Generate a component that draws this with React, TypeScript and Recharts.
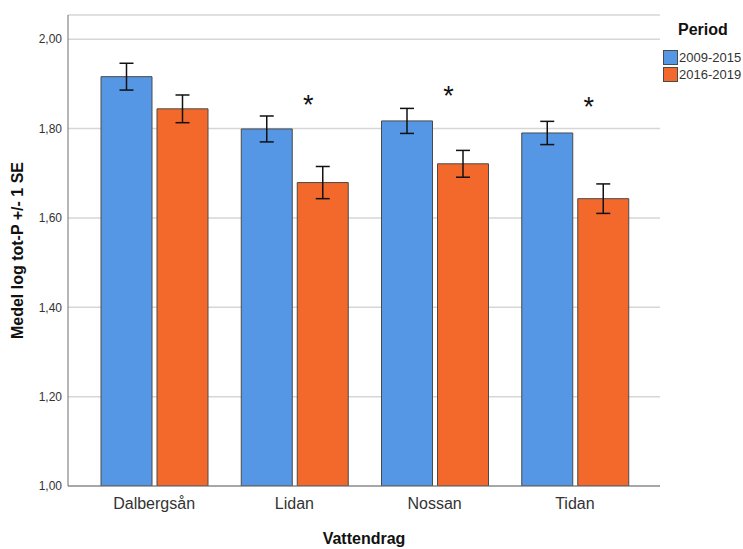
import { ComposedChart, Bar, ErrorBar, Scatter, XAxis, YAxis, CartesianGrid } from 'recharts';

// Vattendrag (categories)
const RIVERS = ['Dalbergsån', 'Lidan', 'Nossan', 'Tidan'];
// mean log tot-P per period
const P2009_2015 = [1.916, 1.799, 1.817, 1.79];
const P2016_2019 = [1.844, 1.679, 1.721, 1.643];
// standard errors
const SE_2009_2015 = [0.03, 0.029, 0.028, 0.026];
const SE_2016_2019 = [0.031, 0.036, 0.03, 0.033];
// significance marker height (null = no marker)
const SIG_MARK = [null, 1.866, 1.888, 1.862];
const Y_TICKS = [1.0, 1.2, 1.4, 1.6, 1.8, 2.0];

const BLUE = '#5596e5';
const ORANGE = '#f2692b';
const FONT = '"Liberation Sans", Arial, sans-serif';

const data = RIVERS.map((name, i) => ({
    name,
    p1: P2009_2015[i],
    se1: SE_2009_2015[i],
    p2: P2016_2019[i],
    se2: SE_2016_2019[i],
    sig: SIG_MARK[i],
}));

const fmt = (v: number) => v.toFixed(2).replace('.', ',');

// asterisk drawn a bit right of the category centre
const STAR_SIZE = 27;
const Star = (props: any) => {
    const { cx, cy } = props;
    if (cx == null || cy == null || isNaN(cy)) return <g />;
    return (
        <text x={cx + 14} y={cy + STAR_SIZE * 0.57} textAnchor="middle" fontSize={STAR_SIZE} fontFamily={FONT} fill="#111">*</text>
    );
};

export default function App() {
    return (
        <div style={{ position: 'absolute', left: 0, top: 0, width: 743, height: 549, background: '#fff', fontFamily: FONT }}>
            <ComposedChart
                width={743}
                height={549}
                data={data}
                margin={{ top: 15, right: 83, bottom: 0, left: 0 }}
                barSize={51}
                barGap={5}
            >
                <CartesianGrid vertical={false} stroke="#d6d6d6" strokeWidth={1.5} />
                <XAxis
                    dataKey="name"
                    height={63}
                    padding={{ left: 16, right: 15 }}
                    tickLine={false}
                    axisLine={{ stroke: '#6e6e6e' }}
                    tickMargin={6}
                    tick={{ fontSize: 16, fill: '#333', fontFamily: FONT }}
                    label={{ value: 'Vattendrag', position: 'insideBottom', offset: 5, style: { fontSize: 16, fontWeight: 'bold', fill: '#111', fontFamily: FONT } }}
                />
                <YAxis
                    width={68}
                    domain={[1, 2.054]}
                    ticks={Y_TICKS}
                    tickFormatter={fmt}
                    tickLine={false}
                    tickSize={4}
                    tickMargin={2}
                    axisLine={{ stroke: '#6e6e6e' }}
                    tick={{ fontSize: 12, fill: '#333', fontFamily: FONT }}
                    label={{ value: 'Medel log tot-P +/- 1 SE', angle: -90, position: 'insideLeft', offset: 17, style: { textAnchor: 'middle', fontSize: 16, fontWeight: 'bold', fill: '#111', fontFamily: FONT } }}
                    allowDataOverflow
                />
                <Bar dataKey="p1" fill={BLUE} stroke="#4a4a4a" strokeWidth={1} isAnimationActive={false}>
                    <ErrorBar dataKey="se1" width={7} stroke="#111" strokeWidth={1.5} direction="y" />
                </Bar>
                <Bar dataKey="p2" fill={ORANGE} stroke="#4a4a4a" strokeWidth={1} isAnimationActive={false}>
                    <ErrorBar dataKey="se2" width={7} stroke="#111" strokeWidth={1.5} direction="y" />
                </Bar>
                <Scatter dataKey="sig" shape={Star} isAnimationActive={false} />
            </ComposedChart>
            <div style={{ position: 'absolute', left: 663, top: 21, color: '#111' }}>
                <div style={{ fontSize: 16, fontWeight: 'bold', marginLeft: 15, marginBottom: 10 }}>Period</div>
                {[['2009-2015', BLUE], ['2016-2019', ORANGE]].map(([label, color]) => (
                    <div key={label} style={{ display: 'flex', alignItems: 'center', height: 17, fontSize: 13, color: '#333' }}>
                        <span style={{ display: 'inline-block', width: 15, height: 15, background: color, border: '1px solid #4a4a4a', boxSizing: 'border-box', marginRight: 1 }} />
                        {label}
                    </div>
                ))}
            </div>
        </div>
    );
}
